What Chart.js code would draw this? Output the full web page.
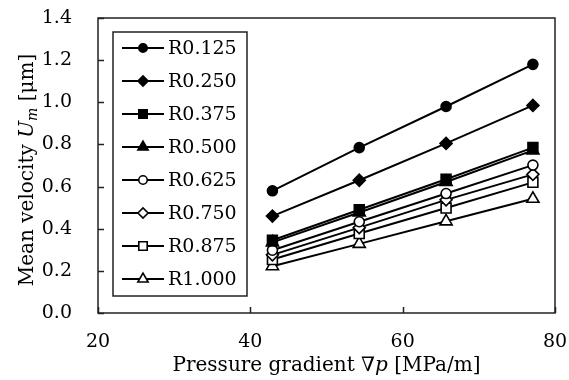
<!DOCTYPE html>
<html>
<head>
<meta charset="utf-8">
<script src="https://cdn.jsdelivr.net/npm/chart.js@4/dist/chart.umd.min.js"></script>
<style>
  html, body { margin: 0; padding: 0; background: #fff; }
  canvas { display: block; }
</style>
</head>
<body>
<canvas id="chart" width="569" height="380" style="width:569px;height:380px"></canvas>
<script>
// pressure gradient [MPa/m]
const pressure = [42.9, 54.3, 65.7, 77.1];
const seriesNames = ['R0.125', 'R0.250', 'R0.375', 'R0.500', 'R0.625', 'R0.750', 'R0.875', 'R1.000'];
// mean velocity Um [um] for each R
const r0125 = [0.58, 0.785, 0.98, 1.18];
const r0250 = [0.46, 0.63, 0.805, 0.985];
const r0375 = [0.345, 0.49, 0.635, 0.785];
const r0500 = [0.335, 0.477, 0.622, 0.772];
const r0625 = [0.298, 0.433, 0.567, 0.702];
const r0750 = [0.276, 0.405, 0.537, 0.658];
const r0875 = [0.254, 0.377, 0.498, 0.62];
const r1000 = [0.222, 0.328, 0.435, 0.542];
const yTicks = [0, 0.2, 0.4, 0.6, 0.8, 1.0, 1.2, 1.4];
const xTicks = [20, 40, 60, 80];

const allSeries = [r0125, r0250, r0375, r0500, r0625, r0750, r0875, r1000];
const styles = [
    { pointStyle: 'circle', radius: 5, fill: '#000' },
    { pointStyle: 'rectRot', radius: 6, fill: '#000' },
    { pointStyle: 'rect', radius: 7, fill: '#000' },
    { pointStyle: 'triangle', radius: 7, fill: '#000' },
    { pointStyle: 'circle', radius: 5, fill: '#fff' },
    { pointStyle: 'rectRot', radius: 6, fill: '#fff' },
    { pointStyle: 'rect', radius: 7, fill: '#fff' },
    { pointStyle: 'triangle', radius: 7, fill: '#fff' }
];

const serif = '"DejaVu Serif", serif';

const datasets = allSeries.map((vals, i) => ({
    label: seriesNames[i],
    data: vals.map((v, j) => ({ x: pressure[j], y: v })),
    showLine: true,
    borderColor: '#000',
    borderWidth: 2,
    pointStyle: styles[i].pointStyle,
    pointRadius: styles[i].radius,
    pointBackgroundColor: styles[i].fill,
    pointBorderColor: '#000',
    pointBorderWidth: 1.6
}));

function noPad(s) {
    s.paddingTop = 0; s.paddingBottom = 0; s.paddingLeft = 0; s.paddingRight = 0;
}

// frame, inward tick marks, axis titles, legend box
const extras = {
    id: 'extras',
    afterDraw(chart) {
        const ctx = chart.ctx;
        const a = chart.chartArea;
        const xs = chart.scales.x, ys = chart.scales.y;
        ctx.save();
        ctx.strokeStyle = '#222';
        ctx.lineWidth = 1.5;
        ctx.strokeRect(a.left, a.top, a.right - a.left, a.bottom - a.top);
        ctx.beginPath();
        yTicks.forEach(t => {
            const y = Math.round(ys.getPixelForValue(t)) + 0.5;
            ctx.moveTo(a.left, y); ctx.lineTo(a.left + 6, y);
        });
        xTicks.forEach(t => {
            const x = Math.round(xs.getPixelForValue(t)) + 0.5;
            ctx.moveTo(x, a.bottom); ctx.lineTo(x, a.bottom - 6);
        });
        ctx.stroke();

        // axis titles with italic parts
        function drawParts(parts, cx, cy) {
            let total = 0;
            parts.forEach(p => { ctx.font = p.font; p.w = ctx.measureText(p.t).width; total += p.w; });
            let x = cx - total / 2;
            parts.forEach(p => {
                ctx.font = p.font;
                ctx.fillText(p.t, x, cy + (p.dy || 0));
                x += p.w;
            });
        }
        ctx.fillStyle = '#000';
        ctx.textBaseline = 'alphabetic';
        ctx.textAlign = 'left';
        drawParts([
            { t: 'Pressure gradient ', font: '20px ' + serif },
            { t: '\u2207', font: 'italic 20px ' + serif },
            { t: 'p', font: 'italic 20px ' + serif },
            { t: ' [MPa/m]', font: '20px ' + serif }
        ], (a.left + a.right) / 2, 371);

        ctx.save();
        ctx.translate(33, 170);
        ctx.rotate(-Math.PI / 2);
        drawParts([
            { t: 'Mean velocity ', font: '20px ' + serif },
            { t: 'U', font: 'italic 20px ' + serif },
            { t: 'm', font: 'italic 14px ' + serif, dy: 4 },
            { t: ' [\u03bcm]', font: '20px ' + serif }
        ], 0, 0);
        ctx.restore();

        // legend
        const lx = 113, ly = 32, lw = 134, lh = 264, row = 33;
        ctx.fillStyle = '#fff';
        ctx.fillRect(lx, ly, lw, lh);
        ctx.strokeStyle = '#222';
        ctx.lineWidth = 1.5;
        ctx.strokeRect(lx, ly, lw, lh);
        chart.data.datasets.forEach((ds, i) => {
            const y = ly + 16 + i * row;
            ctx.strokeStyle = '#000';
            ctx.lineWidth = 2;
            ctx.beginPath();
            ctx.moveTo(122, y); ctx.lineTo(164, y);
            ctx.stroke();
            ctx.fillStyle = ds.pointBackgroundColor;
            ctx.lineWidth = 1.6;
            Chart.helpers.drawPoint(ctx, {
                pointStyle: ds.pointStyle,
                radius: ds.pointRadius * 0.85,
                rotation: 0,
                borderWidth: 1.6
            }, 143, y);
            ctx.fillStyle = '#000';
            ctx.font = '19px ' + serif;
            ctx.textBaseline = 'middle';
            ctx.fillText(ds.label, 168, y + 1);
        });
        ctx.restore();
    }
};

new Chart(document.getElementById('chart').getContext('2d'), {
    type: 'scatter',
    data: { datasets: datasets },
    plugins: [extras],
    options: {
        responsive: false,
        animation: false,
        layout: { padding: { top: 18, right: 14, left: 0, bottom: 0 } },
        plugins: { legend: { display: false }, tooltip: { enabled: false } },
        scales: {
            x: {
                type: 'linear', min: 20, max: 80,
                afterBuildTicks: s => { s.ticks = xTicks.map(v => ({ value: v })); },
                afterFit: s => { s.height = 67; noPad(s); },
                grid: { display: false },
                border: { display: false },
                ticks: { color: '#000', font: { family: serif, size: 19 }, padding: 10 }
            },
            y: {
                min: 0, max: 1.4,
                afterBuildTicks: s => { s.ticks = yTicks.map(v => ({ value: v })); },
                afterFit: s => { s.width = 98; noPad(s); },
                grid: { display: false },
                border: { display: false },
                ticks: { color: '#000', font: { family: serif, size: 19 }, padding: 18,
                    callback: v => v.toFixed(1) }
            }
        }
    }
});
</script>
</body>
</html>
